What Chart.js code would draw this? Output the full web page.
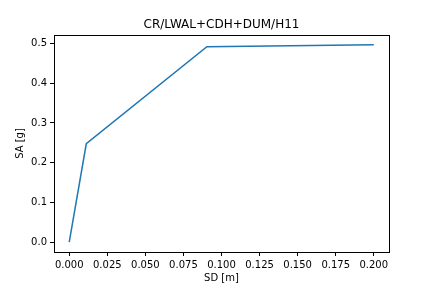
<!DOCTYPE html>
<html>
<head>
<meta charset="utf-8">
<script src="https://cdn.jsdelivr.net/npm/chart.js@4"></script>
<style>
  html, body { margin: 0; padding: 0; background: #fff; }
  #wrap { width: 432px; height: 288px; }
</style>
</head>
<body>
<div id="wrap"><canvas id="capacityChart" width="432" height="288"></canvas></div>
<script>
// Curva de capacidad SD-SA
const sdValues = [0, 0.0112, 0.0904, 0.2];
const saValues = [0, 0.2476, 0.492, 0.4968];
const xTicks = [0, 0.025, 0.05, 0.075, 0.1, 0.125, 0.15, 0.175, 0.2];
const yTicks = [0, 0.1, 0.2, 0.3, 0.4, 0.5];

const fontFamily = '"DejaVu Sans", sans-serif';

// marco completo alrededor del area del grafico
const framePlugin = {
    id: 'frame',
    afterDraw(chart) {
        const a = chart.chartArea;
        const ctx = chart.ctx;
        ctx.save();
        ctx.strokeStyle = '#000';
        ctx.lineWidth = 1;
        ctx.strokeRect(Math.round(a.left) + 0.5, Math.round(a.top) + 0.5,
            Math.round(a.right - a.left), Math.round(a.bottom - a.top));
        ctx.restore();
    }
};

const points = sdValues.map((x, i) => ({ x: x, y: saValues[i] }));

new Chart(document.getElementById('capacityChart'), {
    type: 'scatter',
    data: {
        datasets: [{
            data: points,
            showLine: true,
            borderColor: '#1f77b4',
            borderWidth: 1.5,
            pointRadius: 0,
            fill: false,
            tension: 0
        }]
    },
    options: {
        responsive: false,
        animation: false,
        layout: { padding: { left: 0, right: 43, top: 0, bottom: 0 } },
        plugins: {
            legend: { display: false },
            tooltip: { enabled: false },
            title: {
                display: true,
                text: 'CR/LWAL+CDH+DUM/H11',
                fullSize: false,
                color: '#000',
                font: { family: fontFamily, size: 12, weight: 'normal' },
                padding: { top: 18, bottom: 2.6 }
            }
        },
        scales: {
            x: {
                type: 'linear',
                min: -0.01,
                max: 0.21,
                afterBuildTicks: s => { s.ticks = xTicks.map(v => ({ value: v })); },
                afterFit: s => { s.height = 36; },
                ticks: {
                    color: '#000',
                    padding: 3,
                    maxRotation: 0,
                    autoSkip: false,
                    font: { family: fontFamily, size: 10 },
                    callback: v => v.toFixed(3)
                },
                grid: { drawOnChartArea: false, drawTicks: true, tickLength: 4, color: '#000' },
                border: { display: true, color: '#000' },
                title: {
                    display: true,
                    text: 'SD [m]',
                    color: '#000',
                    font: { family: fontFamily, size: 10 },
                    padding: { top: 0, bottom: 4 }
                }
            },
            y: {
                type: 'linear',
                min: -0.0248,
                max: 0.5213,
                afterBuildTicks: s => { s.ticks = yTicks.map(v => ({ value: v })); },
                afterFit: s => { s.width = 54; },
                ticks: {
                    color: '#000',
                    padding: 3,
                    autoSkip: false,
                    font: { family: fontFamily, size: 10 },
                    callback: v => v.toFixed(1)
                },
                grid: { drawOnChartArea: false, drawTicks: true, tickLength: 4, color: '#000' },
                border: { display: true, color: '#000' },
                title: {
                    display: true,
                    text: 'SA [g]',
                    color: '#000',
                    font: { family: fontFamily, size: 10 },
                    padding: { top: 14, bottom: 0 }
                }
            }
        }
    },
    plugins: [framePlugin]
});
</script>
</body>
</html>
